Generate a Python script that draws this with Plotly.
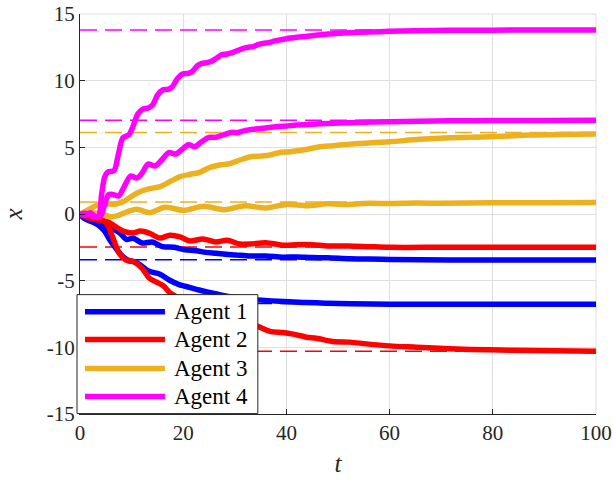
import plotly.graph_objects as go

# ---------------- data ----------------
agent_names = ["Agent 1", "Agent 2", "Agent 3", "Agent 4"]
agent_colors = ["#0000FF", "#FF0000", "#EDB120", "#FF00FF"]

# Agent 1 (blue) - two trajectories
t_a1_up = [0, 1, 2.5, 3.8, 4.8, 5.8, 6.8, 7.8, 9.0, 10.3, 12.1, 14.0, 16.0, 18.3, 20.3, 22.5, 24.4, 26.3,
           28.3, 30.2, 33, 36, 39.3, 42, 45, 48, 52.3, 56, 60, 71.6, 80, 90, 100]
x_a1_up = [0, -0.35, -0.6, -0.75, -0.9, -1.1, -1.2, -1.45, -1.9, -1.82, -2.18, -2.1, -2.45, -2.5, -2.68,
           -2.75, -2.88, -2.95, -3.02, -3.07, -3.15, -3.15, -3.24, -3.22, -3.27, -3.28, -3.36, -3.38, -3.41,
           -3.45, -3.45, -3.45, -3.45]
t_a1_lo = [0, 1, 2.5, 3.8, 4.8, 5.7, 7.0, 8.3, 9.5, 10.8, 12.1, 13.4, 15.4, 17.3, 19.2, 21.2, 23.1, 24.4,
           26.5, 29, 32, 34.5, 39.5, 43.8, 47.6, 52.3, 60, 71.6, 80, 90, 100]
x_a1_lo = [0, -0.35, -0.6, -0.9, -1.3, -1.9, -2.6, -3.2, -3.5, -3.6, -3.95, -4.3, -4.5, -4.95, -5.3, -5.5,
           -5.7, -5.82, -6.0, -6.2, -6.35, -6.44, -6.57, -6.63, -6.69, -6.73, -6.76, -6.77, -6.77, -6.77, -6.77]

# Agent 2 (red)
t_a2_up = [0, 1.5, 3, 4.5, 5.5, 6.5, 7.5, 8.5, 10.2, 11.7, 13.5, 15.5, 17.4, 19.4, 21.3, 23.8, 26.3, 28.5,
           31, 33, 36, 39.5, 42, 45, 48, 52, 56, 60, 70, 80, 90, 100]
x_a2_up = [0, -0.25, -0.4, -0.5, -0.6, -0.85, -1.1, -1.3, -1.42, -1.28, -1.45, -1.8, -1.6, -1.72, -2.03,
           -1.87, -2.1, -1.97, -2.25, -2.25, -2.15, -2.35, -2.3, -2.3, -2.4, -2.4, -2.45, -2.5, -2.5, -2.5,
           -2.5, -2.5]
t_a2_lo = [0, 1.5, 3, 4.5, 5.3, 6.3, 7.6, 8.9, 10.5, 12.1, 13.4, 14.8, 16.2, 17.4, 18.6, 20.5, 22.5, 24.5,
           26.5, 28.5, 30.5, 32.5, 34.2, 36.8, 39.3, 41.3, 43.9, 45.8, 49, 52.3, 55.5, 60, 65.2, 71.6, 79.4,
           87.7, 100]
x_a2_lo = [0, -0.25, -0.4, -0.5, -0.8, -1.7, -2.95, -3.45, -3.6, -4.1, -4.8, -5.1, -5.4, -5.9, -6.2, -6.6,
           -6.95, -7.3, -7.6, -7.85, -8.05, -8.25, -8.39, -8.8, -8.89, -9.01, -9.24, -9.32, -9.56, -9.61,
           -9.74, -9.89, -9.99, -10.11, -10.19, -10.24, -10.3]

# Agent 3 (orange)
t_a3_up = [0, 2, 3.5, 5, 7, 8.5, 9.7, 11.6, 13.5, 15.5, 17.4, 19.4, 21.3, 23.2, 25.2, 27.1, 29, 31, 32.9,
           34.8, 36.8, 38.5, 40.7, 43.8, 46.5, 49, 52.3, 56, 60, 65.8, 71.6, 79.4, 87.1, 93, 100]
x_a3_up = [0, 0.4, 0.7, 0.75, 0.75, 0.95, 1.25, 1.67, 1.9, 2.05, 2.42, 2.8, 2.98, 3.12, 3.5, 3.68, 3.78,
           4.05, 4.28, 4.34, 4.42, 4.6, 4.67, 4.84, 5.04, 5.12, 5.24, 5.33, 5.42, 5.6, 5.72, 5.8, 5.92,
           5.96, 6.0]
t_a3_lo = [0, 2, 4, 5, 6, 7.5, 9, 11, 13.5, 16.5, 20, 24, 28, 32, 36, 40, 44, 48, 52, 56, 60, 65, 70, 80,
           90, 100]
x_a3_lo = [0, 0.1, 0.0, -0.1, -0.2, -0.1, 0.15, 0.35, 0.1, 0.5, 0.28, 0.58, 0.32, 0.62, 0.45, 0.72, 0.62,
           0.76, 0.72, 0.8, 0.78, 0.82, 0.81, 0.84, 0.85, 0.86]

# Agent 4 (magenta)
t_a4_up = [0, 1, 2, 3, 3.6, 4.2, 4.8, 5.4, 6.6, 7.4, 8.3, 9.5, 10.2, 11.2, 12.1, 13.2, 14.1, 15.0, 16.0,
           17.0, 17.8, 18.8, 19.9, 21.0, 21.8, 22.7, 23.6, 24.6, 25.5, 26.5, 27.5, 28.5, 29.5, 30.5, 31.5,
           32.5, 33.5, 34.5, 35.5, 36.5, 38, 40, 42, 44, 46, 48, 50, 52.3, 56, 60, 65, 71.6, 80, 90, 100]
x_a4_up = [0, -0.1, 0.1, -0.2, -0.2, 1.5, 2.8, 3.15, 3.25, 4.4, 5.7, 5.95, 6.5, 7.5, 7.85, 7.95, 8.2, 8.9,
           9.3, 9.35, 9.5, 10.1, 10.5, 10.55, 10.7, 11.1, 11.3, 11.35, 11.45, 11.7, 11.95, 12.0, 12.1,
           12.25, 12.4, 12.5, 12.55, 12.7, 12.8, 12.85, 13.0, 13.15, 13.25, 13.33, 13.42, 13.5, 13.55,
           13.6, 13.65, 13.7, 13.74, 13.78, 13.79, 13.8, 13.8]
t_a4_lo = [0, 1, 2, 3, 4, 4.7, 5.5, 6.5, 7.5, 8.5, 9.8, 11.0, 12.0, 13.2, 14.5, 15.6, 17.2, 18.6, 19.8,
           21.0, 22.3, 23.5, 25.0, 26.3, 27.5, 29.3, 30.5, 32.1, 34.1, 36, 38, 40, 42, 45, 48, 52.3, 60,
           71.6, 80, 90, 100]
x_a4_lo = [0, 0.05, -0.1, -0.25, -0.15, 0.6, 1.45, 1.45, 1.35, 2.0, 2.85, 2.7, 3.05, 3.75, 3.6, 3.95, 4.6,
           4.5, 4.85, 5.2, 5.05, 5.4, 5.75, 5.75, 5.9, 6.12, 6.1, 6.27, 6.37, 6.45, 6.54, 6.6, 6.67, 6.74,
           6.79, 6.85, 6.92, 6.99, 7.01, 7.02, 7.03]

# dashed reference levels (value, agent index)
ref_values = [13.8, 7.03, 6.12, 0.9, -2.47, -3.44, -6.72, -10.3]
ref_agent = [3, 3, 2, 2, 1, 0, 0, 1]
ref_t = [0, 100]

x_ticks = [0, 20, 40, 60, 80, 100]
x_ticktext = ["0", "20", "40", "60", "80", "100"]
y_ticks = [-15, -10, -5, 0, 5, 10, 15]
y_ticktext = ["-15", "-10", "-5", "0", "5", "10", "15"]

curves = [
    (t_a1_up, x_a1_up, 0), (t_a1_lo, x_a1_lo, 0),
    (t_a2_up, x_a2_up, 1), (t_a2_lo, x_a2_lo, 1),
    (t_a3_up, x_a3_up, 2), (t_a3_lo, x_a3_lo, 2),
    (t_a4_up, x_a4_up, 3), (t_a4_lo, x_a4_lo, 3),
]

# ---------------- figure ----------------
FONT = "Liberation Serif, serif"
TXT = "#262626"
GRID = "#DFDFDF"

fig = go.Figure()

for v, a in zip(ref_values, ref_agent):
    fig.add_trace(go.Scatter(
        x=ref_t, y=[v, v], mode="lines", showlegend=False, hoverinfo="skip",
        line=dict(color=agent_colors[a], width=1.5, dash="17px,8px")))

for t, x, a in curves:
    fig.add_trace(go.Scatter(
        x=t, y=x, mode="lines", name=agent_names[a], showlegend=False,
        line=dict(color=agent_colors[a], width=5.5, shape="spline", smoothing=0.8)))

# frame lines at top / right (grid coloured, as in reference)
fig.add_shape(type="line", xref="paper", yref="paper", x0=0, x1=1, y0=1, y1=1,
              line=dict(color=GRID, width=1), layer="below")
fig.add_shape(type="line", xref="paper", yref="paper", x0=1, x1=1, y0=0, y1=1,
              line=dict(color=GRID, width=1), layer="below")

# legend drawn manually (MATLAB style, long line samples)
lx0, lx1, ly0, ly1 = -0.0058, 0.3446, 0.001, 0.2984
fig.add_shape(type="rect", xref="paper", yref="paper", x0=lx0, x1=lx1, y0=ly0, y1=ly1,
              fillcolor="white", line=dict(color=TXT, width=1), layer="above")
entry_y = [0.2559, 0.1860, 0.1136, 0.0437]
for name, col, yy in zip(agent_names, agent_colors, entry_y):
    fig.add_shape(type="line", xref="paper", yref="paper", x0=0.0097, x1=0.1646, y0=yy, y1=yy,
                  line=dict(color=col, width=5.5), layer="above")
    fig.add_annotation(xref="paper", yref="paper", x=0.1781, y=yy, text=name, showarrow=False,
                       xanchor="left", yanchor="middle", font=dict(family=FONT, size=23, color="black"))

axis_common = dict(
    showgrid=True, gridcolor=GRID, gridwidth=1, zeroline=False,
    showline=True, linecolor=TXT, linewidth=1, mirror=False,
    ticks="inside", ticklen=5, tickcolor=TXT, tickwidth=1,
    automargin=False, ticklabeloverflow="allow",
)

fig.update_layout(
    width=613, height=488,
    margin=dict(l=80, r=16.5, t=14, b=73.5),
    paper_bgcolor="white", plot_bgcolor="white",
    font=dict(family=FONT, size=21, color=TXT),
    showlegend=False,
    xaxis=dict(range=[0, 100], tickvals=x_ticks, ticktext=x_ticktext,
               tickfont=dict(family=FONT, size=21, color=TXT),
               title=dict(text="<i>t</i>", font=dict(family=FONT, size=25, color=TXT), standoff=10),
               **axis_common),
    yaxis=dict(range=[-15, 15], tickvals=y_ticks, ticktext=y_ticktext,
               tickfont=dict(family=FONT, size=21, color=TXT),
               title=dict(text="<i>x</i>", font=dict(family=FONT, size=25, color=TXT), standoff=20),
               **axis_common),
)

# remove the default 8px page margin so the 613x488 figure fills the window exactly
fig.write_html("out.html", config={"displayModeBar": False},
               post_script="document.body.style.margin='0';")
